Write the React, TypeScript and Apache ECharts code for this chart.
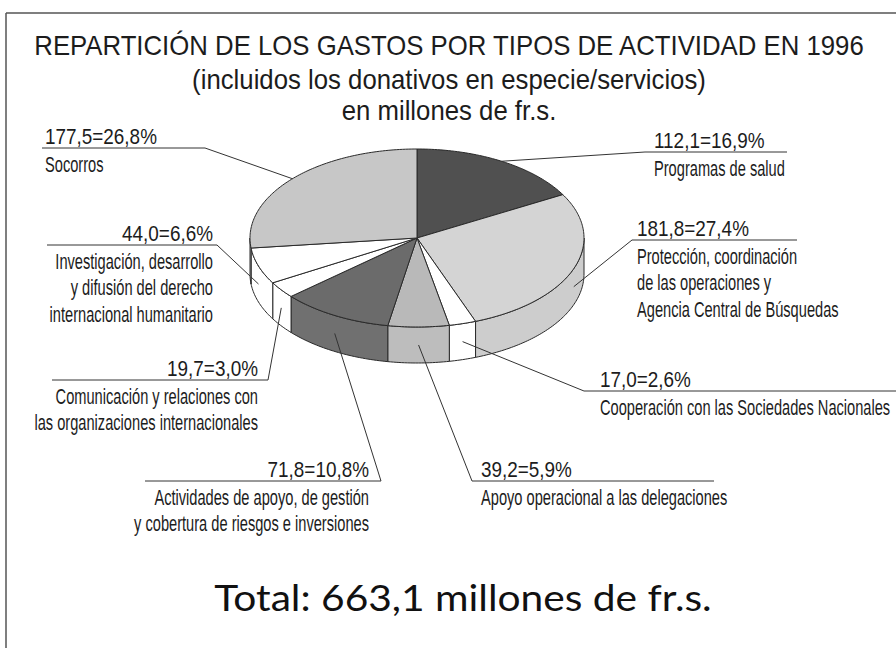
import React, { useEffect, useRef } from "react";
import * as echarts from "echarts";

// ---------- data ----------
const CATEGORIES: string[][] = [
  ["Programas de salud"],
  ["Protección, coordinación", "de las operaciones y", "Agencia Central de Búsquedas"],
  ["Cooperación con las Sociedades Nacionales"],
  ["Apoyo operacional a las delegaciones"],
  ["Actividades de apoyo, de gestión", "y cobertura de riesgos e inversiones"],
  ["Comunicación y relaciones con", "las organizaciones internacionales"],
  ["Investigación, desarrollo", "y difusión del derecho", "internacional humanitario"],
  ["Socorros"],
];
const VALUES = [112.1, 181.8, 17.0, 39.2, 71.8, 19.7, 44.0, 177.5];
const PERCENTS = [16.9, 27.4, 2.6, 5.9, 10.8, 3.0, 6.6, 26.8];
const TOTAL_TEXT = "Total: 663,1 millones de fr.s.";
const TITLE_LINES = [
  "REPARTICIÓN DE LOS GASTOS POR TIPOS DE ACTIVIDAD EN 1996",
  "(incluidos los donativos en especie/servicios)",
  "en millones de fr.s.",
];

// ---------- styles / layout ----------
const TOP_COLORS = ["#505050", "#d4d4d4", "#ffffff", "#b9b9b9", "#6b6b6b", "#ffffff", "#ffffff", "#c7c7c7"];
const SIDE_COLORS = ["#4a4a4a", "#cdcdcd", "#ffffff", "#bdbdbd", "#707070", "#ffffff", "#ffffff", "#c2c2c2"];
const PIE = { cx: 417, cy: 238, rx: 167, ry: 89, depth: 36 };
const LABEL_LAYOUT = [
  { elbow: [645, 152], end: 787, align: "left", textX: 654 },
  { elbow: [632, 240], end: 797, align: "left", textX: 637 },
  { elbow: [584, 391], end: 896, align: "left", textX: 600 },
  { elbow: [472, 481], end: 714, align: "left", textX: 481 },
  { elbow: [381, 481], end: 145, align: "right", textX: 369 },
  { elbow: [268, 380], end: 52, align: "right", textX: 258 },
  { elbow: [217, 245], end: 47, align: "right", textX: 213 },
  { elbow: [205, 148], end: 42, align: "left", textX: 45 },
];
const LABEL_FONT = "'Liberation Sans', Arial, sans-serif";
const LABEL_SIZE = 22;
const DESC_SCALE = 0.665;
const VALUE_SCALE = 0.86;
const LINE_GAP = 26.5;
const TITLE_Y = [46, 80, 111];
const TITLE_SIZE = 28;
const TITLE_SCALE = 0.92;
const TOTAL_FONT = "Lato, 'Noto Sans', sans-serif";
const INK = "#1c1c1c";

const fmt = (v: number) => v.toFixed(1).replace(".", ",");

function rimPoint(theta: number, dy = 0): number[] {
  return [PIE.cx + PIE.rx * Math.sin(theta), PIE.cy - PIE.ry * Math.cos(theta) + dy];
}

function arcPoints(a0: number, a1: number, dy = 0): number[][] {
  const n = Math.max(2, Math.ceil(((a1 - a0) * 180) / Math.PI));
  const pts: number[][] = [];
  for (let k = 0; k <= n; k++) pts.push(rimPoint(a0 + ((a1 - a0) * k) / n, dy));
  return pts;
}

function scaledText(text: string, x: number, y: number, align: string, size: number, family: string, scale: number, fill = INK) {
  return {
    type: "text",
    x,
    y,
    scaleX: scale,
    scaleY: 1,
    style: {
      text,
      x: 0,
      y: 0,
      align,
      verticalAlign: "middle",
      textAlign: align,
      textVerticalAlign: "middle",
      fontSize: size,
      fontFamily: family,
      fill,
    },
  };
}

export default function App() {
  const ref = useRef<HTMLDivElement>(null);
  useEffect(() => {
    if (!ref.current) return;
    const chart = echarts.init(ref.current, undefined, { renderer: "svg" });

    let cum = 0;
    const data = PERCENTS.map((p, i) => {
      const item = { value: [cum, cum + p, VALUES[i]], name: CATEGORIES[i].join(" ") };
      cum += p;
      return item;
    });

    const renderItem = (params: any, api: any) => {
      const i = params.dataIndex;
      const a0 = (api.value(0) / 100) * Math.PI * 2;
      const a1 = (api.value(1) / 100) * Math.PI * 2;
      const val = api.value(2);
      const children: any[] = [];

      // side wall (front half only)
      const s0 = Math.max(a0, Math.PI / 2);
      const s1 = Math.min(a1, (Math.PI * 3) / 2);
      if (s1 > s0) {
        const top = arcPoints(s0, s1, 0);
        const bot = arcPoints(s0, s1, PIE.depth).reverse();
        children.push({
          type: "polygon",
          shape: { points: top.concat(bot) },
          style: { fill: SIDE_COLORS[i], stroke: "#2a2a2a", lineWidth: 1 },
        });
      }
      // top face
      children.push({
        type: "polygon",
        shape: { points: [[PIE.cx, PIE.cy]].concat(arcPoints(a0, a1, 0)) },
        style: { fill: TOP_COLORS[i], stroke: "#2a2a2a", lineWidth: 1 },
      });

      // leader line
      const mid = (a0 + a1) / 2;
      const front = mid > Math.PI / 2 && mid < (Math.PI * 3) / 2;
      const anchor = rimPoint(mid, front ? PIE.depth / 2 : 0);
      const L = LABEL_LAYOUT[i];
      children.push({
        type: "polyline",
        shape: { points: [anchor, L.elbow, [L.end, L.elbow[1]]] },
        style: { fill: "none", stroke: "#333", lineWidth: 1 },
      });

      // label texts
      const pct = api.value(1) - api.value(0);
      children.push(
        scaledText(`${fmt(val)}=${fmt(pct)}%`, L.textX, L.elbow[1] - 12, L.align, LABEL_SIZE, LABEL_FONT, VALUE_SCALE)
      );
      CATEGORIES[i].forEach((line, k) => {
        children.push(
          scaledText(line, L.textX, L.elbow[1] + 16 + k * LINE_GAP, L.align, LABEL_SIZE, LABEL_FONT, DESC_SCALE)
        );
      });
      return { type: "group", children };
    };

    const graphic: any[] = [
      { type: "rect", shape: { x: 0, y: 0, width: 896, height: 648 }, style: { fill: "#ffffff" }, z: -10 },
      { type: "line", shape: { x1: 6, y1: 13, x2: 896, y2: 13 }, style: { stroke: "#555", lineWidth: 1.5 } },
      { type: "line", shape: { x1: 6, y1: 13, x2: 6, y2: 648 }, style: { stroke: "#555", lineWidth: 1.5 } },
      ...TITLE_LINES.map((t, k) => scaledText(t, 449, TITLE_Y[k], "center", TITLE_SIZE, LABEL_FONT, TITLE_SCALE)),
      scaledText(TOTAL_TEXT, 463, 597, "center", 37, TOTAL_FONT, 1.1, "#111"),
    ];

    chart.setOption({
      animation: false,
      graphic,
      series: [
        {
          type: "custom",
          coordinateSystem: "none",
          renderItem,
          data,
          silent: true,
        },
      ],
    });
    return () => chart.dispose();
  }, []);
  return (
    <div
      ref={ref}
      style={{ position: "fixed", left: 0, top: 0, width: 896, height: 648, background: "#fff" }}
    />
  );
}
